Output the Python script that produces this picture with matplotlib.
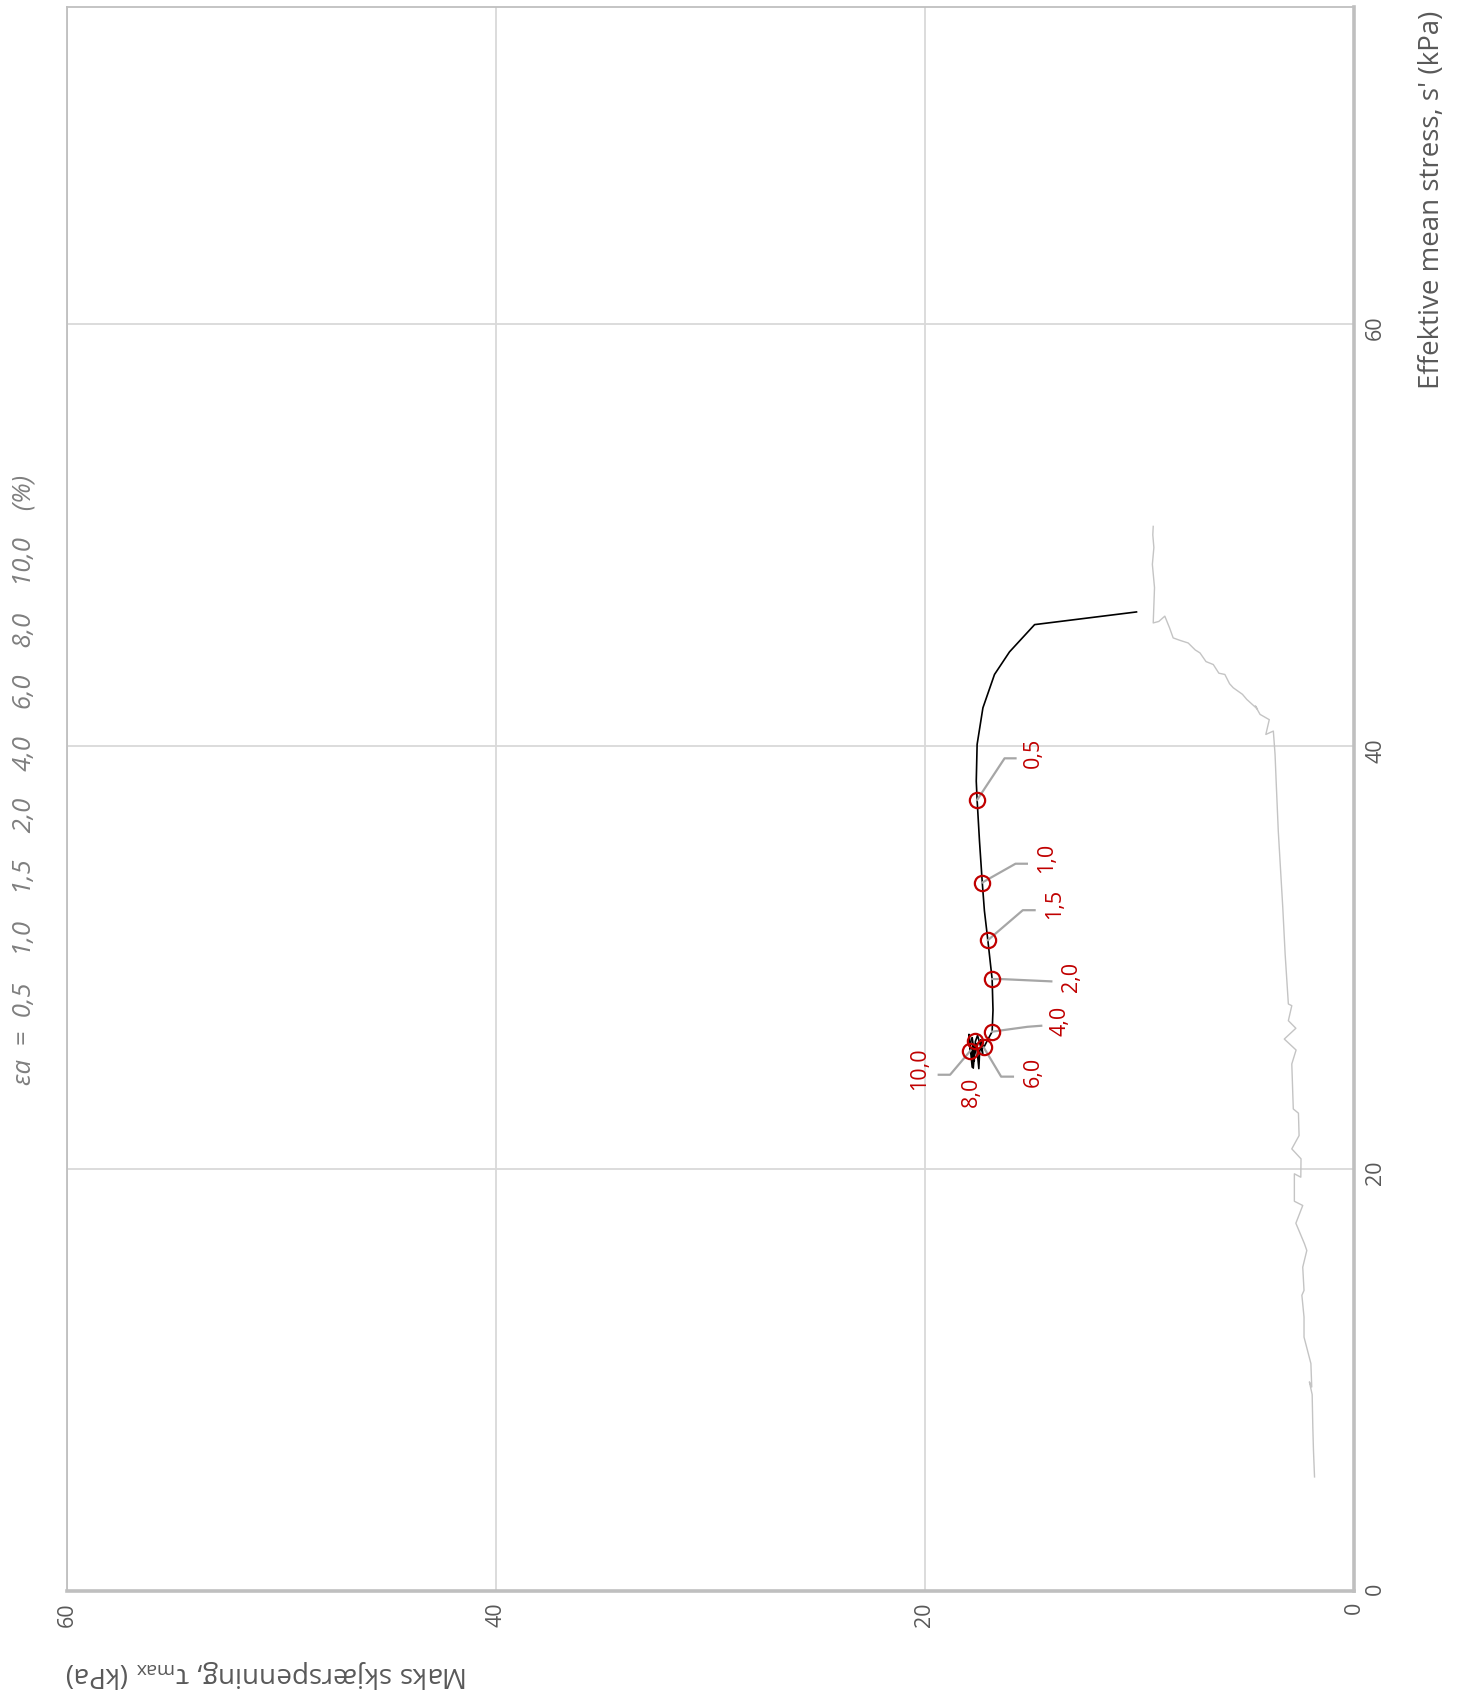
import matplotlib
matplotlib.use("Agg")
import matplotlib.pyplot as plt

plt.rcParams['font.family'] = ['Open Sans', 'DejaVu Sans']
plt.rcParams['mathtext.fontset'] = 'custom'
plt.rcParams['mathtext.rm'] = 'Open Sans'
plt.rcParams['mathtext.it'] = 'Open Sans:italic'

# the picture is the usual s'-tau plot turned 90 degrees:
# horizontal = tau max (60 at left, 0 at right), vertical = s'

# grey path (tau, s')
tau_ref = [1.84, 1.89, 1.92, 1.95, 2.08, 1.97, 2.01, 2.33, 2.33, 2.43, 2.33, 2.39,
           2.20, 2.31, 2.71, 2.39, 2.78, 2.78, 2.48, 2.47, 2.90, 2.56, 2.59, 2.83,
           2.90, 2.70, 3.25, 2.71, 3.06, 2.90, 3.06, 3.21, 3.32, 3.53, 3.63, 3.68,
           3.76, 4.11, 3.95, 4.38, 4.60, 4.50, 5.00, 5.20, 5.63, 5.80, 6.02, 6.30,
           6.56, 6.90, 7.18, 7.40, 7.73, 8.10, 8.43, 8.60, 8.82, 9.10, 9.36, 9.30,
           9.40, 9.33, 9.38, 9.36]
s_ref = [5.40, 6.67, 7.77, 9.30, 9.90, 9.66, 10.77, 12.02, 12.97, 14.00, 14.23, 15.33,
         16.12, 16.44, 17.41, 18.25, 18.45, 19.75, 19.59, 20.46, 20.93, 21.56, 22.62, 22.82,
         24.95, 25.61, 26.13, 26.64, 27.00, 27.71, 27.79, 30.15, 32.35, 35.98, 38.35, 39.60,
         40.71, 40.55, 41.25, 41.50, 41.90, 41.75, 42.21, 42.45, 42.76, 42.95, 43.39, 43.45,
         43.86, 44.00, 44.41, 44.55, 44.88, 45.00, 45.12, 45.60, 46.15, 45.90, 45.83, 47.50,
         48.60, 49.40, 50.00, 50.40]

# black path (tau, s')
tau_eff = [10.14, 14.89, 16.06, 16.76, 17.30, 17.57, 17.61, 17.57, 17.46, 17.33,
           17.23, 17.07, 16.95, 16.87, 16.83, 16.87, 17.10, 17.26, 17.40, 17.30,
           17.55, 17.65, 17.75, 17.80, 17.70, 17.88, 17.95, 17.80, 17.60, 17.49,
           17.45, 17.30]
s_eff = [46.35, 45.75, 44.46, 43.39, 41.81, 40.08, 38.34, 37.45, 35.51, 33.54,
         32.20, 30.81, 29.70, 28.97, 27.50, 26.48, 26.05, 25.73, 26.10, 25.40,
         26.30, 26.02, 24.75, 26.20, 25.10, 25.58, 26.35, 24.80, 25.90, 24.73,
         25.60, 25.75]

# strain markers
strain_labels = ['0,5', '1,0', '1,5', '2,0', '4,0', '6,0', '8,0', '10,0']
tau_pts = [17.57, 17.33, 17.07, 16.87, 16.87, 17.26, 17.65, 17.88]
s_pts = [37.45, 33.54, 30.81, 28.97, 26.48, 25.73, 26.02, 25.58]

# leader elbow / end offsets and label offsets from each marker
elbow_dx = [-1.28, -1.55, -1.63, -0.40, -1.65, -0.81, 0.00, 0.95]
elbow_dy = [1.97, 0.89, 1.42, 0.00, 0.23, -1.38, -0.60, -1.14]
end_dx = [-1.79, -2.08, -2.18, -2.76, -2.29, -1.36, 0.00, 1.48]
end_dy = [1.97, 0.89, 1.42, -0.11, 0.28, -1.38, -0.60, -1.14]
text_dx = [-2.63, -3.00, -3.11, -3.71, -3.15, -2.32, 0.18, 2.38]
text_dy = [2.22, 1.16, 1.72, 0.11, 0.52, -1.14, -2.38, -0.85]

fig = plt.figure(figsize=(14.66, 16.92), dpi=100)
ax = fig.add_axes([0.0457, 0.0597, 0.8779, 0.9363])

ax.plot(tau_ref, s_ref, color='#C4C4C4', lw=1.0, zorder=2)
ax.plot(tau_eff, s_eff, color='black', lw=1.2, zorder=3)

for i, lab in enumerate(strain_labels):
    x0, y0 = tau_pts[i], s_pts[i]
    if lab != '8,0':
        ax.plot([x0, x0 + elbow_dx[i], x0 + end_dx[i]],
                [y0, y0 + elbow_dy[i], y0 + end_dy[i]],
                color='#A6A6A6', lw=1.6, zorder=4)
    ax.text(x0 + text_dx[i], y0 + text_dy[i], lab, rotation=90,
            ha='center', va='center', color='#C00000', fontsize=15.5, zorder=6)

ax.plot(tau_pts, s_pts, linestyle='none', marker='o', ms=11, mfc='none',
        mec='#C00000', mew=1.6, zorder=5)

ax.set_xlim(60, 0)
ax.set_ylim(0, 75)
ax.set_xticks([0, 20, 40, 60])
ax.set_yticks([0, 20, 40, 60])
ax.yaxis.tick_right()
ax.tick_params(length=0, labelsize=15.5, labelcolor='#595959', pad=8)
for lbl in ax.get_xticklabels() + ax.get_yticklabels():
    lbl.set_rotation(90)
ax.grid(True, color='#D9D9D9', lw=1.3, zorder=0)

for side in ['top', 'left']:
    ax.spines[side].set_color('#BFBFBF')
    ax.spines[side].set_linewidth(1.3)
for side in ['bottom', 'right']:
    ax.spines[side].set_color('#BFBFBF')
    ax.spines[side].set_linewidth(2.6)

fig.text(0.977, 0.9935, "Effektive mean stress, s' (kPa)", rotation=90,
         ha='center', va='top', fontsize=20, color='#595959')
fig.text(0.0443, 0.0106, r"Maks skjærspenning, τ$_{\mathrm{max}}$ (kPa)", rotation=180,
         ha='left', va='center', fontsize=20, color='#595959')
fig.text(0.0164, 0.539, "εa  =  0,5    1,0    1,5    2,0    4,0    6,0    8,0    10,0    (%)",
         rotation=90, ha='center', va='center', fontsize=18.5, style='italic',
         color='#7F7F7F')

fig.savefig('out.png', dpi=100)
